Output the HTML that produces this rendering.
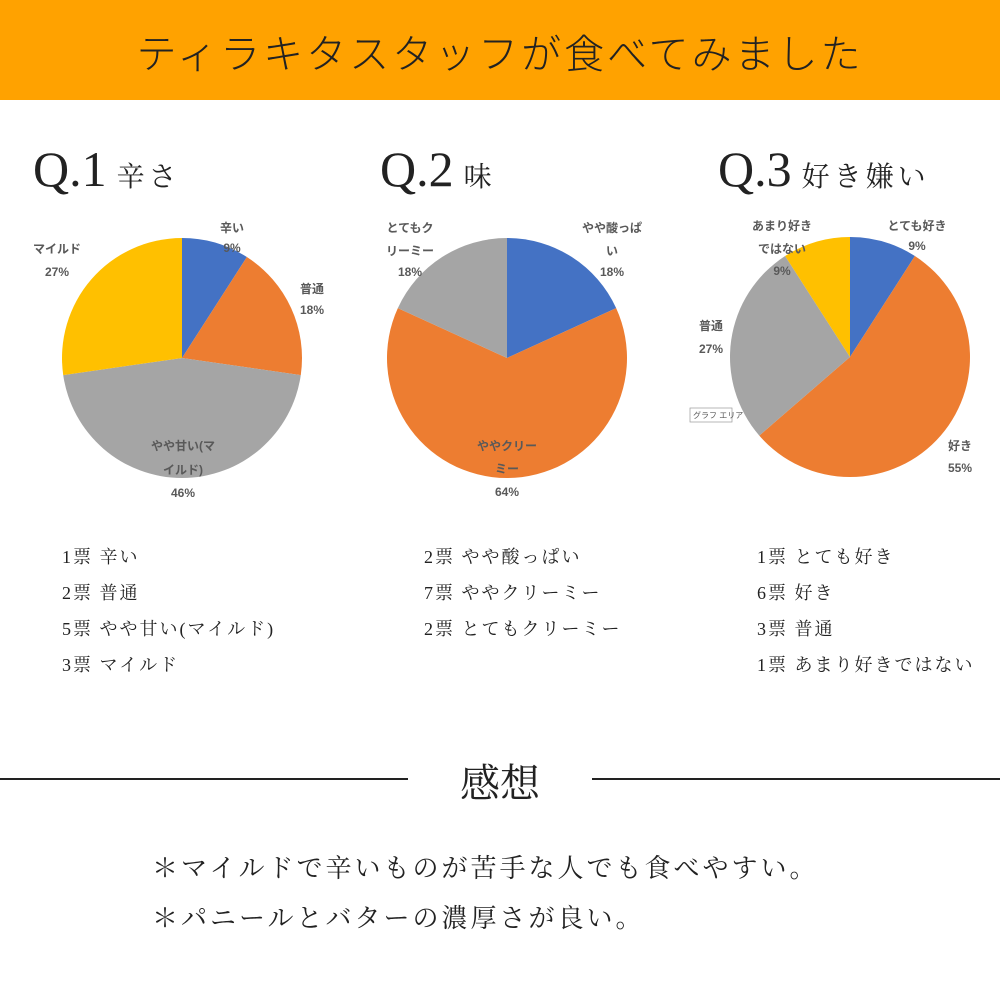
<!DOCTYPE html>
<html><head><meta charset="utf-8"><style>
body{margin:0;width:1000px;height:1000px;background:#fff;position:relative;overflow:hidden;font-family:"Liberation Serif","Noto Serif CJK SC",serif;color:#222}
.abs{position:absolute;white-space:nowrap}
.hdr{left:0;top:0;width:1000px;height:100px;background:#FFA200}
.ttl{left:0;width:1000px;top:22px;text-align:center;font:300 40px "Noto Sans CJK JP",sans-serif;letter-spacing:3px;color:#222}
.q{font-size:50px;top:140px}
.q span{font:28px "Noto Serif CJK SC",serif;letter-spacing:4px;margin-left:10px}
.li{font-size:18px;letter-spacing:2px}
.cm{font:26px "Noto Serif CJK SC",serif;letter-spacing:3px;left:152px}
svg text{font-family:"Liberation Sans","Noto Sans CJK JP",sans-serif;font-size:12px;font-weight:bold;fill:#595959}
</style></head><body>
<div class="abs hdr"></div>
<div class="abs ttl">ティラキタスタッフが食べてみました</div>
<div class="abs q" style="left:33px">Q.1<span>辛さ</span></div>
<div class="abs q" style="left:380px">Q.2<span>味</span></div>
<div class="abs q" style="left:718px">Q.3<span>好き嫌い</span></div>
<svg class="abs" style="left:0;top:0" width="1000" height="520" id="pies">
<text x="232" y="232" text-anchor="middle">辛い</text><text x="232" y="252" text-anchor="middle">9%</text>
<text x="312" y="293" text-anchor="middle">普通</text><text x="312" y="314" text-anchor="middle">18%</text>
<text x="57" y="253" text-anchor="middle">マイルド</text><text x="57" y="276" text-anchor="middle">27%</text>
<text x="183" y="450" text-anchor="middle">やや甘い(マ</text><text x="183" y="474" text-anchor="middle">イルド)</text><text x="183" y="497" text-anchor="middle">46%</text>
<text x="612" y="232" text-anchor="middle">やや酸っぱ</text><text x="612" y="255" text-anchor="middle">い</text><text x="612" y="276" text-anchor="middle">18%</text>
<text x="410" y="232" text-anchor="middle">とてもク</text><text x="410" y="255" text-anchor="middle">リーミー</text><text x="410" y="276" text-anchor="middle">18%</text>
<text x="507" y="450" text-anchor="middle">ややクリー</text><text x="507" y="473" text-anchor="middle">ミー</text><text x="507" y="496" text-anchor="middle">64%</text>
<text x="917" y="230" text-anchor="middle">とても好き</text><text x="917" y="250" text-anchor="middle">9%</text>
<text x="782" y="230" text-anchor="middle">あまり好き</text><text x="782" y="253" text-anchor="middle">ではない</text><text x="782" y="275" text-anchor="middle">9%</text>
<text x="711" y="330" text-anchor="middle">普通</text><text x="711" y="353" text-anchor="middle">27%</text>
<text x="960" y="450" text-anchor="middle">好き</text><text x="960" y="472" text-anchor="middle">55%</text>
<rect x="690" y="408" width="42" height="14" fill="#fff" stroke="#999" stroke-width="0.7"/><text x="693" y="418" style="font-size:8px;font-weight:normal">グラフ エリア</text>
</svg>
<div class="abs li" style="left:62px;top:543px">1票 辛い</div>
<div class="abs li" style="left:62px;top:579px">2票 普通</div>
<div class="abs li" style="left:62px;top:615px">5票 やや甘い(マイルド)</div>
<div class="abs li" style="left:62px;top:651px">3票 マイルド</div>
<div class="abs li" style="left:424px;top:543px">2票 やや酸っぱい</div>
<div class="abs li" style="left:424px;top:579px">7票 ややクリーミー</div>
<div class="abs li" style="left:424px;top:615px">2票 とてもクリーミー</div>
<div class="abs li" style="left:757px;top:543px">1票 とても好き</div>
<div class="abs li" style="left:757px;top:579px">6票 好き</div>
<div class="abs li" style="left:757px;top:615px">3票 普通</div>
<div class="abs li" style="left:757px;top:651px">1票 あまり好きではない</div>
<div class="abs" style="left:0;top:778px;width:408px;height:2px;background:#222"></div>
<div class="abs" style="left:592px;top:778px;width:408px;height:2px;background:#222"></div>
<div class="abs" style="left:0;width:1000px;top:752px;text-align:center;font:40px 'Noto Serif CJK SC',serif">感想</div>
<div class="abs cm" style="top:848px">＊マイルドで辛いものが苦手な人でも食べやすい。</div>
<div class="abs cm" style="top:898px">＊パニールとバターの濃厚さが良い。</div>
<script>
const q1Values=[1,2,5,3];
const q2Values=[2,7,2];
const q3Values=[1,6,3,1];
const q1Colors=["#4472C4","#ED7D31","#A5A5A5","#FFC000"];
const q2Colors=["#4472C4","#ED7D31","#A5A5A5"];
const q3Colors=["#4472C4","#ED7D31","#A5A5A5","#FFC000"];
const svg=document.getElementById('pies');
const NS="http://www.w3.org/2000/svg";
function drawPie(vals,cols,cx,cy,r,name){
  const tot=vals.reduce((a,b)=>a+b,0);
  let a0=-Math.PI/2;
  const g=document.createElementNS(NS,'g');
  
  
  vals.forEach((v,i)=>{
    const a1=a0+v/tot*2*Math.PI;
    const large=(a1-a0)>Math.PI?1:0;
    const p=document.createElementNS(NS,'path');
    p.setAttribute('d',`M${cx},${cy} L${cx+r*Math.cos(a0)},${cy+r*Math.sin(a0)} A${r},${r} 0 ${large} 1 ${cx+r*Math.cos(a1)},${cy+r*Math.sin(a1)} Z`);
    p.setAttribute('fill',cols[i]);
    
    
    g.appendChild(p);
    a0=a1;
  });
  svg.insertBefore(g,svg.firstChild);
}
drawPie(q1Values,q1Colors,182,358,120,'q1-pie');
drawPie(q2Values,q2Colors,507,358,120,'q2-pie');
drawPie(q3Values,q3Colors,850,357,120,'q3-pie');
</script>
</body></html>
